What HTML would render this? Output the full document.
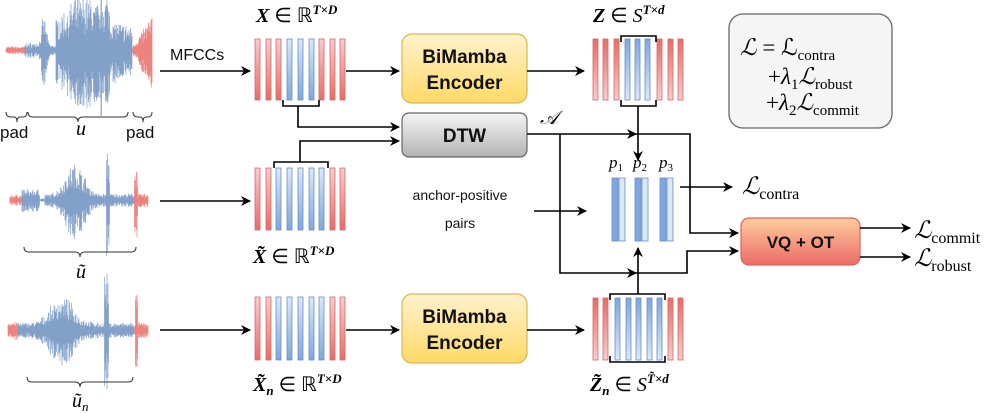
<!DOCTYPE html>
<html><head><meta charset="utf-8"><style>
html,body{margin:0;padding:0;background:#fff}
svg{display:block}
.m{font-family:"Liberation Serif",serif;font-style:italic}
.r{font-family:"Liberation Serif",serif}
.b{font-family:"Liberation Sans",sans-serif;font-weight:bold;fill:#111}
.s{font-family:"Liberation Sans",sans-serif;fill:#111}
</style></head><body>
<svg id="sv" width="996" height="413" viewBox="0 0 996 413" xmlns="http://www.w3.org/2000/svg">
<defs>
<linearGradient id="gr" x1="0" y1="0" x2="0" y2="1"><stop offset="0" stop-color="#ea6b66"/><stop offset="1" stop-color="#f8cccc"/></linearGradient>
<linearGradient id="gr2" x1="0" y1="0" x2="0" y2="1"><stop offset="0" stop-color="#f8cccc"/><stop offset="1" stop-color="#ea6b66"/></linearGradient>
<linearGradient id="gb" x1="0" y1="0" x2="0" y2="1"><stop offset="0" stop-color="#7ea6e0"/><stop offset="1" stop-color="#dae8fc"/></linearGradient>
<linearGradient id="gb2" x1="0" y1="0" x2="0" y2="1"><stop offset="0" stop-color="#dae8fc"/><stop offset="1" stop-color="#7ea6e0"/></linearGradient>
<linearGradient id="gy" x1="0" y1="0" x2="0" y2="1"><stop offset="0" stop-color="#fff2cc"/><stop offset="1" stop-color="#ffd966"/></linearGradient>
<linearGradient id="gg" x1="0" y1="0" x2="0" y2="1"><stop offset="0" stop-color="#f5f5f5"/><stop offset="1" stop-color="#b3b3b3"/></linearGradient>
<linearGradient id="go" x1="0" y1="0" x2="0" y2="1"><stop offset="0" stop-color="#ffcd9e"/><stop offset="1" stop-color="#ea6b66"/></linearGradient>
<marker id="ar" markerWidth="10" markerHeight="10" refX="9" refY="5" orient="auto" markerUnits="userSpaceOnUse"><path d="M0,0 L10,5 L0,10 L3,5 z" fill="#000"/></marker>
</defs>
<g id="waves"></g>
<g id="bars"></g>

<g fill="none" stroke="#333" stroke-width="1">
<path d="M6,112 q0,5 5,5 h3 q3,0 3,5 q0,-5 3,-5 h3 q4,0 4,-5"/>
<path d="M28,112 q0,5 5,5 h40 q5,0 5,5 q0,-5 5,-5 h40 q5,0 5,-5"/>
<path d="M133,112 q0,5 5,5 h2 q3,0 3,5 q0,-5 3,-5 h2 q4,0 4,-5"/>
<path d="M24,247 q0,5 5,5 h46 q5,0 5,5 q0,-5 5,-5 h46 q5,0 5,-5"/>
<path d="M27,377 q0,5 5,5 h43 q5,0 5,5 q0,-5 5,-5 h43 q5,0 5,-5"/>
</g>
<text class="s" x="0" y="138" font-size="17">pad</text>
<text class="s" x="126" y="138" font-size="17">pad</text>
<text class="m" x="76" y="135" font-size="20">u</text>
<text class="m" x="76" y="278" font-size="20">ũ</text>
<text class="m" x="72" y="407" font-size="20">ũ<tspan font-size="13" dy="4">n</tspan></text>

<text class="s" x="170" y="60" font-size="16">MFCCs</text>

<text class="m" x="256" y="22" font-size="20" font-weight="bold">X <tspan class="r" font-style="normal" font-weight="normal">∈ ℝ</tspan><tspan font-size="13" dy="-8">T×D</tspan></text>
<text class="m" x="593" y="22" font-size="20" font-weight="bold">Z <tspan class="r" font-style="normal" font-weight="normal">∈</tspan> <tspan font-weight="normal">S</tspan><tspan font-size="13" dy="-8">T×d</tspan></text>
<text class="m" x="253" y="263" font-size="20" font-weight="bold">X̃ <tspan class="r" font-style="normal" font-weight="normal">∈ ℝ</tspan><tspan font-size="13" dy="-8">T×D</tspan></text>
<text class="m" x="253" y="391" font-size="20" font-weight="bold">X̃<tspan font-size="13" dy="4">n</tspan><tspan class="r" font-style="normal" font-weight="normal" dy="-4"> ∈ ℝ</tspan><tspan font-size="13" dy="-8">T×D</tspan></text>
<text class="m" x="590" y="391" font-size="20" font-weight="bold">Z̃<tspan font-size="13" dy="4">n</tspan><tspan class="r" font-style="normal" font-weight="normal" dy="-4"> ∈ </tspan><tspan font-weight="normal">S</tspan><tspan font-size="13" dy="-8">T̃×d</tspan></text>

<rect x="402" y="34" width="125" height="69" rx="10" fill="url(#gy)" stroke="#d6b656" stroke-width="1.2"/>
<text class="b" x="464.5" y="63" font-size="19" text-anchor="middle">BiMamba</text>
<text class="b" x="464.5" y="89" font-size="19" text-anchor="middle">Encoder</text>
<rect x="402" y="294" width="125" height="69" rx="10" fill="url(#gy)" stroke="#d6b656" stroke-width="1.2"/>
<text class="b" x="464.5" y="323" font-size="19" text-anchor="middle">BiMamba</text>
<text class="b" x="464.5" y="349" font-size="19" text-anchor="middle">Encoder</text>
<rect x="402" y="113" width="125" height="44" rx="7" fill="url(#gg)" stroke="#666" stroke-width="1.2"/>
<text class="b" x="464.5" y="142" font-size="19" text-anchor="middle">DTW</text>
<rect x="741" y="218" width="119" height="47" rx="8" fill="url(#go)" stroke="#e06060" stroke-width="1.2"/>
<text class="b" x="800.5" y="248" font-size="17" text-anchor="middle">VQ + OT</text>
<rect x="729" y="14" width="163" height="114" rx="14" fill="#f5f5f5" stroke="#666" stroke-width="1.3"/>
<text class="m" x="740" y="55" font-size="23">ℒ <tspan class="r" font-style="normal">= ℒ</tspan><tspan class="r" font-style="normal" font-size="15" dy="5">contra</tspan></text>
<text class="m" x="768" y="84" font-size="23"><tspan class="r" font-style="normal">+</tspan>λ<tspan class="r" font-style="normal" font-size="15" dy="5">1</tspan><tspan dy="-5">ℒ</tspan><tspan class="r" font-style="normal" font-size="15" dy="5">robust</tspan></text>
<text class="m" x="766" y="110" font-size="23"><tspan class="r" font-style="normal">+</tspan>λ<tspan class="r" font-style="normal" font-size="15" dy="5">2</tspan><tspan dy="-5">ℒ</tspan><tspan class="r" font-style="normal" font-size="15" dy="5">commit</tspan></text>

<g fill="none" stroke="#000" stroke-width="1.6">
<line x1="160" y1="71" x2="250" y2="71" marker-end="url(#ar)"/>
<line x1="160" y1="201" x2="250" y2="201" marker-end="url(#ar)"/>
<line x1="160" y1="330" x2="250" y2="330" marker-end="url(#ar)"/>
<line x1="346" y1="71" x2="399" y2="71" marker-end="url(#ar)"/>
<line x1="346" y1="330" x2="399" y2="330" marker-end="url(#ar)"/>
<line x1="527" y1="71" x2="584" y2="71" marker-end="url(#ar)"/>
<line x1="527" y1="330" x2="584" y2="330" marker-end="url(#ar)"/>
<path d="M283,100 v6 h36 v-6"/>
<path d="M298,106 V127 H399" marker-end="url(#ar)"/>
<path d="M274,168 v-6 h54 v6"/>
<path d="M300,162 V141 H399" marker-end="url(#ar)"/>
<path d="M621,42 v-6 h35 v6 M621,100 v6 h35 v-6"/>
<path d="M610,300 v-6 h55 v6 M610,356 v6 h55 v-6"/>
<path d="M638,106 V160" marker-end="url(#ar)"/>
<path d="M638,294 V248" marker-end="url(#ar)"/>
<path d="M527,134 H636" marker-end="url(#ar)"/>
<path d="M636,134 H690 V233 H738" marker-end="url(#ar)"/>
<path d="M560,134 V273 H636" marker-end="url(#ar)"/>
<path d="M636,273 H687 V251 H738" marker-end="url(#ar)"/>
<path d="M534,211 H586" marker-end="url(#ar)"/>
<path d="M680,187 H732" marker-end="url(#ar)"/>
<path d="M860,228 H910" marker-end="url(#ar)"/>
<path d="M860,257 H910" marker-end="url(#ar)"/>
</g>
<text class="m" x="540" y="124" font-size="19">𝒜</text>
<text class="m" x="609" y="168" font-size="17">p<tspan class="r" font-style="normal" font-size="11" dy="3">1</tspan></text>
<text class="m" x="633" y="168" font-size="17">p<tspan class="r" font-style="normal" font-size="11" dy="3">2</tspan></text>
<text class="m" x="659" y="168" font-size="17">p<tspan class="r" font-style="normal" font-size="11" dy="3">3</tspan></text>
<text class="s" x="460" y="200" font-size="14" text-anchor="middle">anchor-positive</text>
<text class="s" x="460" y="228" font-size="14" text-anchor="middle">pairs</text>
<text class="m" x="742" y="194" font-size="24">ℒ<tspan class="r" font-style="normal" font-size="16" dy="5">contra</tspan></text>
<text class="m" x="914" y="238" font-size="24">ℒ<tspan class="r" font-style="normal" font-size="16" dy="5">commit</tspan></text>
<text class="m" x="914" y="266" font-size="24">ℒ<tspan class="r" font-style="normal" font-size="16" dy="5">robust</tspan></text>
</svg>
<script>
(function(){
var NS="http://www.w3.org/2000/svg";
var bars=document.getElementById("bars");
function bar(x,y,h,c,w,flip){var r=document.createElementNS(NS,"rect");r.setAttribute("x",x);r.setAttribute("y",y);r.setAttribute("width",w||5);r.setAttribute("height",h);
r.setAttribute("fill","url(#g"+(c=="r"?"r":"b")+(flip?"2":"")+")");r.setAttribute("stroke",c=="r"?"#d46a6a":"#6c8ebf");r.setAttribute("stroke-width","0.8");bars.appendChild(r);}
var xs=[255,266,276,287,298,309,319,330,340];
var s1="rrrbbbrrr",s2="rrbbbbbrr";
xs.forEach(function(x,i){bar(x,39,61,s1[i],5,true);bar(x,168,62,s2[i],5,true);bar(x,297,63,s2[i],5,true);});
var zs=[593,603,614,625,635,645,657,668,678];
zs.forEach(function(x,i){bar(x,39,61,s1[i],5);});
var zn=[593,603,615,626,636,647,657,668,678];
zn.forEach(function(x,i){bar(x,298,62,s2[i],5);});
[[612,"b"],[619,"l"],[635,"b"],[642,"l"],[660,"b"],[667,"l"]].forEach(function(p){var r=document.createElementNS(NS,"rect");r.setAttribute("x",p[0]);r.setAttribute("y",178);r.setAttribute("width",6);r.setAttribute("height",63);r.setAttribute("fill",p[1]=="b"?"#7ea6e0":"#dae8fc");r.setAttribute("stroke","#6c8ebf");r.setAttribute("stroke-width","0.8");bars.appendChild(r);});
var g=document.getElementById("waves");var seed=7;function rnd(){seed=(seed*16807)%2147483647;return seed/2147483647;}
function wave(x0,x1,cy,env,pads){for(var x=x0;x<=x1;x+=0.5){var a=env(x)*(0.35+0.65*rnd());var up=a*(0.7+0.3*rnd());var col=(x<pads[0]||x>pads[1])?"#ea6b66":"#6c8ebf";var l=document.createElementNS(NS,"line");l.setAttribute("x1",x);l.setAttribute("x2",x);l.setAttribute("y1",cy-up);l.setAttribute("y2",cy+a);l.setAttribute("stroke",col);l.setAttribute("stroke-width","0.6");g.appendChild(l);}}
wave(6,152,50,function(x){if(x<25)return 4;if(x<50)return 8+30*Math.exp(-Math.pow((x-44)/3,2));if(x<56)return 6;if(x>132)return 4+35*(x-132)/20;return 25+35*Math.exp(-Math.pow((x-85)/25,2))+ (x>100&&x<110?20:0);},[25,132]);
wave(10,148,200,function(x){if(x<22)return 6;if(x<40)return 12;if(x<45)return 2;if(x<100)return 6+34*Math.exp(-Math.pow((x-75)/13,2));if(x>106&&x<110)return 58;if(x>134&&x<138)return 42;return 7;},[22,134]);
wave(8,148,330,function(x){if(x<18)return 10;if(x<100)return 8+28*Math.exp(-Math.pow((x-62)/16,2));if(x>104&&x<109)return 60;if(x>135&&x<138)return 40;return 8;},[18,134]);
})();
</script>
</body></html>
